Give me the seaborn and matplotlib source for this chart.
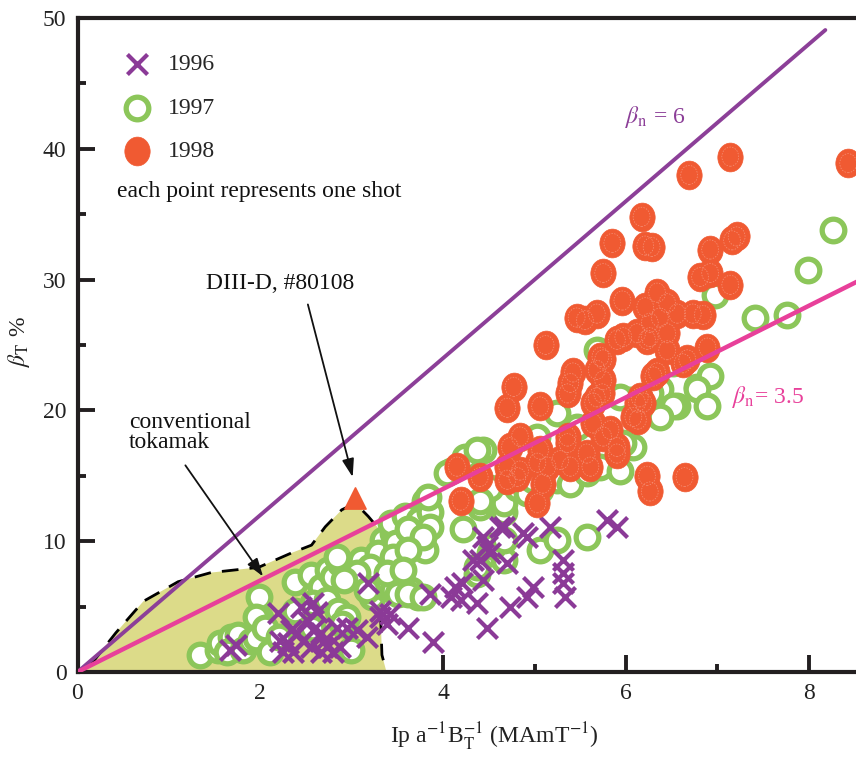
import numpy as np
import pandas as pd
import matplotlib
matplotlib.use("Agg")
import matplotlib.pyplot as plt
import seaborn as sns
from matplotlib.path import Path
from matplotlib.transforms import Affine2D
from matplotlib.ticker import MultipleLocator

# ---------------- data ----------------
# 1996 shots (crosses)
x96 = [1.67, 1.73, 2.19, 2.22, 2.25, 2.33, 2.44, 2.58, 2.51, 2.58, 2.36, 2.66, 2.73, 2.84,
       2.87, 2.66, 2.80, 2.95, 3.06, 3.17, 3.18, 3.31, 3.39, 3.31, 2.40, 2.47, 2.55, 3.61,
       3.89, 3.86, 4.08, 4.13, 4.21, 4.19, 4.37, 4.48, 4.73, 4.92, 4.98, 4.44, 4.40, 4.44,
       4.48, 4.51, 4.33, 4.62, 4.70, 4.92, 5.17, 5.31, 5.31, 5.31, 5.33, 5.79, 5.90, 4.87,
       4.66, 3.42, 2.62, 2.70, 2.30]
y96 = [1.7, 2.1, 4.5, 2.4, 1.5, 3.2, 5.0, 5.3, 4.0, 3.2, 1.5, 3.0, 1.9, 3.4,
       1.9, 1.5, 1.5, 3.4, 3.2, 2.7, 6.8, 4.2, 3.7, 4.7, 3.0, 2.4, 1.9, 3.4,
       2.3, 6.0, 5.7, 6.5, 6.8, 5.5, 5.3, 3.4, 5.0, 5.7, 6.5, 7.0, 8.6, 10.3,
       9.6, 9.1, 8.6, 11.1, 8.3, 10.3, 11.1, 8.6, 7.6, 6.8, 5.7, 11.6, 11.1, 10.6,
       11.1, 4.4, 4.6, 2.4, 2.2]

# 1997 shots (open circles)
x97 = [1.34, 1.54, 1.56, 1.68, 1.76, 1.64, 1.81, 1.90, 1.95, 2.00, 1.98, 1.95, 2.05, 2.11,
       2.20, 2.38, 2.38, 2.55, 2.66, 2.58, 2.56, 2.74, 2.80, 2.87, 2.73, 2.85, 2.95, 2.89,
       2.99, 3.07, 3.17, 3.22, 3.34, 3.45, 3.34, 3.45, 3.37, 3.45, 3.10, 3.29, 3.43, 3.58,
       3.73, 3.65, 3.48, 3.80, 3.80, 3.51, 3.65, 3.86, 3.61, 3.86, 3.78, 3.45, 3.61, 3.20,
       3.06, 3.39, 3.56, 3.72, 2.91, 3.17, 2.84, 4.08, 4.44, 4.22, 4.40, 4.66, 4.51, 4.66,
       4.37, 3.83, 4.55, 4.66, 5.06, 5.25, 5.57, 4.37, 3.61, 3.78, 4.24, 4.66, 5.06, 5.25,
       5.39, 5.57, 5.72, 5.93, 6.08, 6.04, 6.30, 6.56, 6.37, 6.78, 5.25, 5.03, 4.04, 4.37,
       4.51, 4.40, 4.81, 4.92, 4.98, 8.26, 7.99, 7.76, 7.41, 6.97, 5.68, 6.51, 6.92, 6.78,
       6.89, 6.51, 6.37, 6.26, 5.93, 5.97, 5.46, 6.24]
y97 = [1.3, 1.7, 2.2, 2.7, 2.8, 1.5, 1.7, 2.4, 2.6, 4.1, 5.7, 4.2, 3.4, 1.5,
       2.7, 6.9, 4.7, 7.4, 6.5, 5.3, 3.4, 7.8, 7.3, 8.3, 5.5, 4.7, 4.2, 3.7,
       1.7, 8.2, 7.0, 5.7, 9.1, 8.3, 10.1, 10.6, 6.4, 6.3, 8.6, 9.1, 11.4, 11.9,
       11.6, 10.3, 9.9, 13.1, 9.3, 6.0, 6.3, 12.2, 10.9, 11.1, 10.3, 8.8, 9.3, 8.0,
       7.6, 7.6, 7.8, 5.7, 7.0, 6.3, 8.8, 15.4, 17.0, 10.9, 12.6, 12.2, 9.1, 8.6,
       7.5, 13.4, 9.6, 10.1, 9.3, 10.1, 10.3, 8.0, 6.0, 5.7, 16.4, 12.9, 13.9, 14.7,
       14.4, 15.2, 15.7, 15.4, 17.2, 20.8, 19.8, 20.3, 21.6, 21.8, 19.8, 18.0, 15.2, 17.0,
       14.1, 13.1, 14.1, 13.7, 14.7, 33.8, 30.7, 27.3, 27.1, 28.8, 24.6, 23.6, 22.6, 21.6,
       20.3, 20.3, 19.5, 21.3, 21.0, 17.5, 18.7, 25.9]

# 1998 shots (filled circles)
x98 = [7.14, 6.69, 8.43, 6.17, 5.85, 6.21, 6.28, 5.75, 6.92, 7.21, 7.16, 6.81, 6.92, 7.14,
       5.96, 5.46, 5.68, 5.55, 6.21, 6.34, 6.45, 6.37, 6.56, 6.73, 6.84, 6.26, 6.12, 5.97,
       5.90, 6.45, 6.23, 6.89, 6.62, 5.72, 5.68, 5.75, 5.42, 5.39, 6.30, 6.15, 5.74, 5.64,
       6.13, 5.64, 5.83, 5.36, 5.90, 4.77, 4.70, 5.06, 5.36, 6.19, 4.84, 4.73, 5.06, 5.36,
       5.28, 5.39, 5.57, 5.61, 5.75, 5.90, 4.15, 4.40, 4.70, 4.84, 5.03, 5.14, 5.09, 4.19,
       5.03, 6.23, 6.26, 6.64, 5.12, 4.81, 4.70, 6.26, 6.45, 6.67, 5.75, 6.34, 6.12, 6.08,
       5.68]
y98 = [39.4, 38.0, 38.9, 34.8, 32.8, 32.6, 32.5, 30.5, 32.3, 33.3, 33.0, 30.2, 30.5, 29.6,
       28.4, 27.1, 27.4, 26.9, 27.9, 29.0, 28.2, 27.1, 27.4, 27.4, 27.3, 26.7, 25.9, 25.6,
       25.4, 24.6, 25.4, 24.8, 23.6, 24.1, 23.1, 22.3, 22.9, 22.1, 22.6, 21.0, 21.3, 20.6,
       19.3, 19.0, 18.5, 18.0, 17.2, 21.8, 20.2, 20.3, 21.3, 20.6, 18.0, 17.2, 17.0, 17.5,
       16.2, 15.7, 16.7, 15.7, 18.0, 16.7, 15.7, 14.9, 14.7, 15.4, 16.0, 15.7, 14.4, 13.1,
       12.9, 15.0, 13.8, 14.9, 25.0, 14.9, 15.7, 25.6, 25.9, 23.9, 23.9, 22.9, 20.6, 19.5,
       21.0]

# conventional tokamak region
tok_x = [0.0, 0.15, 0.42, 0.72, 1.10, 1.46, 1.98, 2.34, 2.56, 2.71, 2.89, 3.04, 3.18, 3.29, 3.31, 3.33, 3.38]
tok_y = [0.0, 0.6, 3.0, 5.4, 6.9, 7.6, 8.0, 9.1, 9.7, 11.1, 12.4, 12.9, 11.9, 11.0, 5.5, 1.3, 0.0]

# DIII-D shot #80108
d3d_x = [3.03]
d3d_y = [13.3]

# normalised beta limits
beta_n = [6.0, 3.5]
beta_line_end = [8.18, 8.7]

years = ["1996", "1997", "1998"]

# ---------------- style ----------------
sns.set_theme(style="white")
plt.rcParams["font.family"] = ["Liberation Serif", "DejaVu Serif"]
plt.rcParams["mathtext.fontset"] = "stix"

c_cross = "#8b3a97"
c_green = "#8cc65a"
c_orange = "#f05a32"
c_purple_line = "#8c3f98"
c_pink = "#e8409a"
c_yellow = "#dcdb89"
c_axis = "#231f20"

fig = plt.figure(figsize=(8.56, 7.57), dpi=100)
ax = fig.add_axes([77.5 / 856, 85 / 757, 778 / 856, 654 / 757])
ax.set_xlim(0, 8.51)
ax.set_ylim(0, 50)

# tokamak region
ax.fill(tok_x, tok_y, color=c_yellow, zorder=1, lw=0)
ax.plot(tok_x[1:], tok_y[1:], color="black", lw=2.0, ls=(0, (6, 4)), zorder=1.5)

ell = Path.unit_circle().transformed(Affine2D().scale(0.88, 1.0))

df96 = pd.DataFrame({"x": x96, "y": y96})
df97 = pd.DataFrame({"x": x97, "y": y97})
df98 = pd.DataFrame({"x": x98, "y": y98})

sns.scatterplot(data=df97, x="x", y="y", ax=ax, marker="o", s=265,
                color=c_green, facecolor="white", edgecolor=c_green,
                linewidth=3.8, zorder=2, label=years[1])
sns.scatterplot(data=df96, x="x", y="y", ax=ax, marker="x", s=210,
                color=c_cross, linewidth=3.0, zorder=3, label=years[0])
sns.scatterplot(data=df98, x="x", y="y", ax=ax, marker=ell, s=430,
                color=c_orange, edgecolor=c_orange, linewidth=0.5, zorder=4,
                label=years[2])
sns.scatterplot(data=df98, x="x", y="y", ax=ax, marker=ell, s=190,
                facecolor="none", edgecolor="#f6937a", linewidth=0.5,
                linestyle=(0, (2, 2)), zorder=4.1, legend=False)

# beta_n lines
for bn, xe, col, lw in zip(beta_n, beta_line_end, [c_purple_line, c_pink], [2.8, 3.2]):
    lx = np.array([0.0, xe])
    sns.lineplot(x=lx, y=bn * lx, ax=ax, color=col, lw=lw, zorder=5)

# DIII-D triangle
sns.scatterplot(x=d3d_x, y=d3d_y, ax=ax, marker="^", s=230, color=c_orange,
                edgecolor=c_orange, zorder=6, legend=False)

# annotations
fs = 17
ax.text(2.22, 29.7, "DIII-D, #80108", fontsize=fs, ha="center", va="center", color="#111111")
ax.annotate("", xy=(3.01, 14.9), xytext=(2.52, 28.1),
            arrowprops=dict(arrowstyle="-|>,head_length=0.55,head_width=0.18",
                            color="#111111", lw=1.3, mutation_scale=20,
                            shrinkA=0, shrinkB=0), zorder=7)
ax.text(0.56, 18.3, "conventional\ntokamak", fontsize=fs, ha="left", va="center",
        linespacing=0.95, color="#111111")
ax.annotate("", xy=(2.03, 7.3), xytext=(1.18, 15.8),
            arrowprops=dict(arrowstyle="-|>,head_length=0.55,head_width=0.18",
                            color="#111111", lw=1.3, mutation_scale=20,
                            shrinkA=0, shrinkB=0), zorder=7)
ax.text(5.99, 42.4, r"$\beta_{\rm n}$ = 6", fontsize=fs, color=c_purple_line,
        ha="left", va="center")
ax.text(7.16, 21.0, r"$\beta_{\rm n}$= 3.5", fontsize=fs, color=c_pink,
        ha="left", va="center")
ax.text(0.43, 36.7, "each point represents one shot", fontsize=fs,
        ha="left", va="center", color="#111111")

# legend
handles, labels = ax.get_legend_handles_labels()
order = [labels.index(y) for y in years]
ax.legend([handles[i] for i in order], [labels[i] for i in order],
          loc="upper left", bbox_to_anchor=(0.058, 0.945), frameon=False,
          fontsize=fs, handlelength=1.2, handletextpad=0.7, labelspacing=0.92,
          borderpad=0, borderaxespad=0, scatterpoints=1)

# axes styling
for side in ["left", "bottom", "top"]:
    ax.spines[side].set_visible(True)
    ax.spines[side].set_linewidth(3.0)
    ax.spines[side].set_color(c_axis)
ax.spines["right"].set_visible(False)

ax.xaxis.set_major_locator(MultipleLocator(2))
ax.xaxis.set_minor_locator(MultipleLocator(1))
ax.yaxis.set_major_locator(MultipleLocator(10))
ax.yaxis.set_minor_locator(MultipleLocator(5))
ax.tick_params(which="both", direction="in", color=c_axis, width=2.8,
               top=False, right=False, bottom=True, left=True)
ax.tick_params(which="major", length=12, labelsize=fs, pad=8, labelcolor="#222222")
ax.tick_params(which="minor", length=6)

ax.set_xlabel(r"Ip a$^{-1}$B$_{\rm T}^{-1}$ (MAmT$^{-1}$)", fontsize=fs, color="#222222")
ax.set_ylabel(r"$\beta_{\rm T}$ %", fontsize=fs, color="#222222")
ax.xaxis.set_label_coords(0.536, -0.075)
ax.yaxis.set_label_coords(-0.058, 0.505)

fig.savefig("out.png", dpi=100)
